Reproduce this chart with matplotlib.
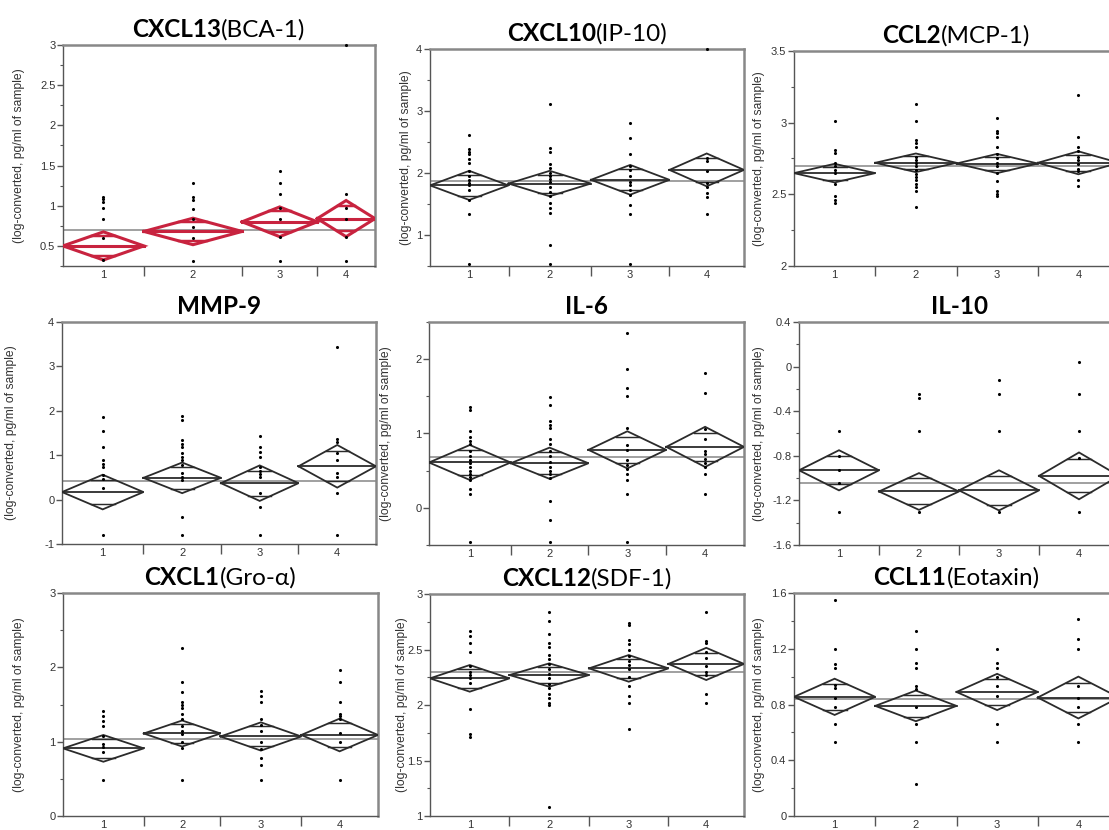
import numpy as np
import matplotlib
matplotlib.use("Agg")
import matplotlib.pyplot as plt
from matplotlib.ticker import MultipleLocator, FuncFormatter

plt.rcParams['axes.unicode_minus'] = False
plt.rcParams['font.family'] = ['Liberation Sans', 'DejaVu Sans']

# ---- data ----
# CXCL13 (BCA-1)
cxcl13_n = [14, 17, 13, 10]
cxcl13_mean = [0.50, 0.68, 0.80, 0.84]
cxcl13_ci = [0.175, 0.165, 0.185, 0.225]
cxcl13_grand = 0.70
cxcl13_pts = [[1.11, 1.08, 1.05, 0.97, 0.83, 0.60, 0.33],
              [1.28, 1.11, 1.07, 0.96, 0.83, 0.73, 0.60, 0.31],
              [1.43, 1.28, 1.14, 0.97, 0.83, 0.61, 0.31],
              [3.00, 1.14, 0.97, 0.83, 0.61, 0.31]]

# CXCL10 (IP-10)
cxcl10_n = [20, 21, 20, 19]
cxcl10_mean = [1.80, 1.83, 1.89, 2.05]
cxcl10_ci = [0.235, 0.205, 0.24, 0.265]
cxcl10_grand = 1.875
cxcl10_pts = [[2.62, 2.38, 2.34, 2.31, 2.23, 2.16, 2.03, 1.95, 1.89, 1.84, 1.81, 1.73, 1.57, 1.34, 0.53],
              [3.12, 2.40, 2.34, 2.15, 2.08, 2.00, 1.95, 1.90, 1.85, 1.78, 1.70, 1.63, 1.51, 1.43, 1.35, 0.84, 0.53],
              [2.80, 2.57, 2.30, 2.11, 2.05, 1.95, 1.86, 1.80, 1.72, 1.65, 1.49, 1.34, 0.53],
              [4.00, 2.24, 2.19, 2.03, 1.84, 1.78, 1.68, 1.61, 1.34]]

# CCL2 (MCP-1)
ccl2_n = [20, 20, 20, 20]
ccl2_mean = [2.648, 2.72, 2.715, 2.72]
ccl2_ci = [0.065, 0.065, 0.067, 0.08]
ccl2_grand = 2.70
ccl2_pts = [[3.01, 2.81, 2.79, 2.72, 2.70, 2.67, 2.65, 2.57, 2.49, 2.46, 2.44],
            [3.13, 3.01, 2.88, 2.86, 2.83, 2.76, 2.74, 2.72, 2.70, 2.67, 2.64, 2.62, 2.60, 2.57, 2.55, 2.52, 2.41],
            [3.03, 2.94, 2.93, 2.90, 2.83, 2.78, 2.75, 2.72, 2.70, 2.65, 2.59, 2.52, 2.50, 2.49],
            [3.19, 2.90, 2.83, 2.80, 2.76, 2.74, 2.71, 2.68, 2.66, 2.60, 2.56]]

# MMP-9
mmp9_n = [21, 20, 20, 20]
mmp9_mean = [0.17, 0.49, 0.37, 0.75]
mmp9_ci = [0.39, 0.345, 0.40, 0.48]
mmp9_grand = 0.41
mmp9_pts = [[1.86, 1.54, 1.19, 0.89, 0.81, 0.74, 0.55, 0.47, 0.27, -0.80],
            [1.88, 1.79, 1.35, 1.26, 1.19, 1.04, 0.96, 0.89, 0.77, 0.60, 0.50, 0.45, -0.39, -0.80],
            [1.43, 1.19, 1.07, 0.96, 0.74, 0.65, 0.57, 0.52, 0.14, -0.16, -0.80],
            [3.43, 1.37, 1.30, 1.04, 0.89, 0.59, 0.52, 0.14, -0.80]]

# IL-6
il6_n = [21, 20, 20, 20]
il6_mean = [0.61, 0.60, 0.78, 0.82]
il6_ci = [0.235, 0.21, 0.25, 0.27]
il6_grand = 0.69
il6_pts = [[1.36, 1.31, 1.04, 0.95, 0.90, 0.86, 0.77, 0.70, 0.65, 0.60, 0.55, 0.50, 0.46, 0.41, 0.37, 0.26, 0.18, -0.46],
           [1.49, 1.38, 1.17, 1.12, 1.07, 0.92, 0.86, 0.77, 0.70, 0.62, 0.55, 0.50, 0.45, 0.40, 0.09, -0.16, -0.46],
           [2.35, 1.87, 1.61, 1.50, 1.07, 0.84, 0.78, 0.64, 0.58, 0.52, 0.46, 0.37, 0.19, -0.46],
           [1.82, 1.54, 1.06, 0.92, 0.77, 0.72, 0.66, 0.60, 0.55, 0.46, 0.18]]

# IL-10
il10_n = [20, 20, 20, 20]
il10_mean = [-0.93, -1.12, -1.11, -0.98]
il10_ci = [0.18, 0.165, 0.18, 0.21]
il10_grand = -1.04
il10_pts = [[-0.58, -0.80, -0.93, -1.04, -1.30],
            [-0.25, -0.28, -0.58, -1.30],
            [-0.12, -0.25, -0.58, -1.30],
            [0.04, -0.25, -0.58, -0.82, -1.30]]

# CXCL1 (Gro-alpha)
cxcl1_n = [20, 19, 20, 19]
cxcl1_mean = [0.91, 1.11, 1.07, 1.09]
cxcl1_ci = [0.18, 0.175, 0.19, 0.22]
cxcl1_grand = 1.04
cxcl1_pts = [[1.41, 1.34, 1.28, 1.21, 1.08, 0.97, 0.93, 0.86, 0.49],
             [2.26, 1.80, 1.67, 1.53, 1.49, 1.45, 1.37, 1.30, 1.21, 1.15, 1.10, 1.00, 0.92, 0.49],
             [1.68, 1.61, 1.53, 1.30, 1.23, 1.14, 1.00, 0.90, 0.78, 0.68, 0.49],
             [1.97, 1.80, 1.54, 1.37, 1.34, 1.30, 1.12, 1.00, 0.49]]

# CXCL12 (SDF-1)
cxcl12_n = [20, 20, 20, 19]
cxcl12_mean = [2.24, 2.27, 2.33, 2.37]
cxcl12_ci = [0.12, 0.105, 0.12, 0.145]
cxcl12_grand = 2.30
cxcl12_pts = [[2.67, 2.62, 2.56, 2.48, 2.35, 2.30, 2.27, 2.24, 2.20, 1.96, 1.74, 1.71],
              [2.84, 2.76, 2.64, 2.56, 2.52, 2.45, 2.41, 2.37, 2.32, 2.28, 2.24, 2.19, 2.15, 2.10, 2.06, 2.02, 2.00, 1.08],
              [2.74, 2.72, 2.59, 2.55, 2.50, 2.44, 2.40, 2.36, 2.32, 2.25, 2.17, 2.08, 2.02, 1.78],
              [2.84, 2.58, 2.56, 2.48, 2.42, 2.35, 2.30, 2.27, 2.10, 2.02]]

# CCL11 (Eotaxin)
ccl11_n = [20, 20, 20, 20]
ccl11_mean = [0.855, 0.79, 0.89, 0.85]
ccl11_ci = [0.13, 0.11, 0.13, 0.15]
ccl11_grand = 0.84
ccl11_pts = [[1.55, 1.20, 1.09, 1.06, 0.94, 0.92, 0.85, 0.78, 0.66, 0.53],
             [1.33, 1.20, 1.10, 1.06, 0.93, 0.91, 0.78, 0.66, 0.53, 0.23],
             [1.20, 1.10, 1.06, 1.00, 0.93, 0.86, 0.66, 0.53],
             [1.41, 1.27, 1.20, 0.93, 0.85, 0.78, 0.66, 0.53]]

groups = ['1', '2', '3', '4']
ylab = '(log-converted, pg/ml of sample)'

W, H = 1109, 830
fig = plt.figure(figsize=(W / 100, H / 100), dpi=100)
renderer = fig.canvas.get_renderer()
TFONT = ['Lato', 'DejaVu Sans']


def mixed_title(ax, bold, normal, size=17.5):
    t1 = fig.text(0, 0, bold, fontsize=size, fontweight='bold', family=TFONT,
                  ha='left', va='baseline')
    t2 = fig.text(0, 0, normal, fontsize=size, family=TFONT, ha='left', va='baseline')
    w1 = t1.get_window_extent(renderer).width
    w2 = t2.get_window_extent(renderer).width if normal else 0
    bb = ax.get_window_extent(renderer)
    x0 = bb.x0 + bb.width / 2 - (w1 + w2) / 2
    y0 = bb.y1 + 8
    t1.set_position((x0 / W, y0 / H))
    t2.set_position(((x0 + w1) / W, y0 / H))


def panel(box, bold, normal, ylim, major, minor, n, means, ci, grand, pts,
          lab_x, color='#2b2b2b', lw=1.3):
    l, t, r, b = box
    ax = fig.add_axes([l / W, 1 - b / H, (r - l) / W, (b - t) / H])
    edges = np.concatenate([[0], np.cumsum(n)])
    centers = (edges[:-1] + edges[1:]) / 2
    ax.set_xlim(0, edges[-1])
    ax.set_ylim(*ylim)

    ax.axhline(grand, color='#a0a0a0', lw=1.4, zorder=1)
    k = 1 / np.sqrt(2)
    for i in range(4):
        x0, x1, xc = edges[i], edges[i + 1], centers[i]
        m, h = means[i], ci[i]
        ax.plot([x0, xc, x1, xc, x0], [m, m + h, m, m - h, m], color=color, lw=lw, zorder=3,
                solid_joinstyle='miter')
        ax.plot([x0, x1], [m, m], color=color, lw=lw, zorder=3)
        hw = (x1 - x0) / 2 * (1 - k)
        for s in (1, -1):
            ax.plot([xc - hw, xc + hw], [m + s * k * h] * 2, color=color, lw=lw * 0.8, zorder=3)
        ax.scatter([xc] * len(pts[i]), pts[i], s=5, color='black', lw=0, zorder=4, clip_on=False)

    ax.set_xticks(centers)
    ax.set_xticklabels(groups)
    ax.set_xticks(edges[1:-1], minor=True)
    ax.tick_params(axis='x', which='major', length=0, pad=3, labelsize=8, labelcolor='#333333')
    ax.tick_params(axis='x', which='minor', length=7, width=1, color='#555555')

    ax.yaxis.set_major_locator(MultipleLocator(major))
    if minor:
        ax.yaxis.set_minor_locator(MultipleLocator(minor))
    ax.yaxis.set_major_formatter(FuncFormatter(lambda v, p: '%g' % round(v, 2)))
    ax.tick_params(axis='y', which='major', length=4, width=1, color='#555555', pad=1.5,
                   labelsize=8, labelcolor='#333333')
    ax.tick_params(axis='y', which='minor', length=2.5, width=0.8, color='#555555')

    for s in ('left', 'bottom'):
        ax.spines[s].set_color('#555555')
        ax.spines[s].set_linewidth(1.0)
    for s in ('top', 'right'):
        ax.spines[s].set_color('#888888')
        ax.spines[s].set_linewidth(1.8)

    ax.set_ylabel(ylab, fontsize=8.7, color='#333333')
    ax.yaxis.set_label_coords(lab_x / (r - l), 0.5)
    mixed_title(ax, bold, normal)
    return ax


panel((63, 45, 375, 266), 'CXCL13', '(BCA-1)', (0.25, 3), 0.5, 0.25,
      cxcl13_n, cxcl13_mean, cxcl13_ci, cxcl13_grand, cxcl13_pts, -38,
      color='#c8233f', lw=2.2)
panel((430, 49, 744, 266), 'CXCL10', '(IP-10)', (0.5, 4), 1, 0.5,
      cxcl10_n, cxcl10_mean, cxcl10_ci, cxcl10_grand, cxcl10_pts, -18)
panel((794, 51, 1119, 266), 'CCL2', '(MCP-1)', (2, 3.5), 0.5, 0.25,
      ccl2_n, ccl2_mean, ccl2_ci, ccl2_grand, ccl2_pts, -29)
panel((62, 322, 376, 544), 'MMP-9', '', (-1, 4), 1, None,
      mmp9_n, mmp9_mean, mmp9_ci, mmp9_grand, mmp9_pts, -45)
panel((429, 322, 744, 545), 'IL-6', '', (-0.5, 2.5), 1, 0.5,
      il6_n, il6_mean, il6_ci, il6_grand, il6_pts, -37)
panel((799, 322, 1119, 545), 'IL-10', '', (-1.6, 0.4), 0.4, 0.2,
      il10_n, il10_mean, il10_ci, il10_grand, il10_pts, -34)
panel((63, 593, 378, 816), 'CXCL1', '(Gro-\u03b1)', (0, 3), 1, 0.5,
      cxcl1_n, cxcl1_mean, cxcl1_ci, cxcl1_grand, cxcl1_pts, -38)
panel((430, 594, 744, 816), 'CXCL12', '(SDF-1)', (1, 3), 0.5, 0.25,
      cxcl12_n, cxcl12_mean, cxcl12_ci, cxcl12_grand, cxcl12_pts, -22)
panel((794, 593, 1119, 816), 'CCL11', '(Eotaxin)', (0, 1.6), 0.4, 0.2,
      ccl11_n, ccl11_mean, ccl11_ci, ccl11_grand, ccl11_pts, -29)

fig.savefig('out.png', dpi=100)
